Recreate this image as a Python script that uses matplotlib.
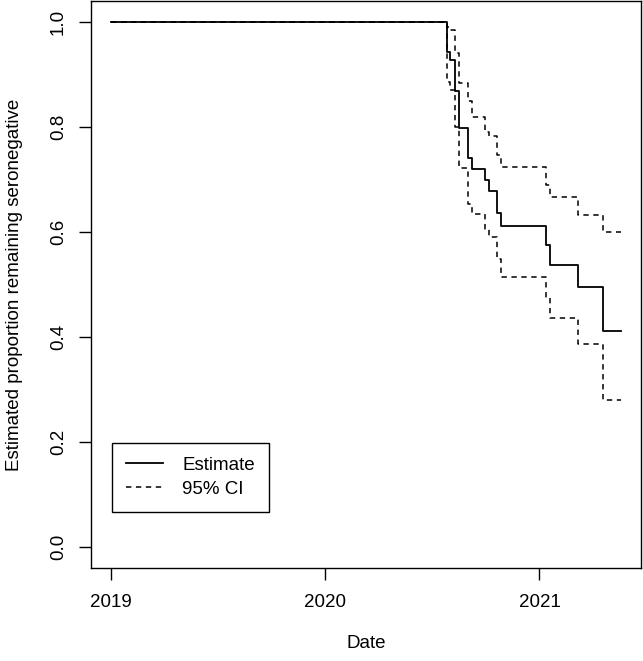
import matplotlib
matplotlib.use("Agg")
import matplotlib.pyplot as plt
from matplotlib.lines import Line2D

plt.rcParams['font.family'] = ['Liberation Sans', 'DejaVu Sans']

# Kaplan-Meier style curve: event times (decimal years) and values after each step
start_year = 2019.0
end_year = 2021.379
step_years = [2020.568, 2020.584, 2020.605, 2020.623, 2020.665, 2020.685, 2020.744,
              2020.763, 2020.800, 2020.822, 2021.031, 2021.051, 2021.180, 2021.297]
estimate = [0.943, 0.927, 0.868, 0.797, 0.740, 0.719, 0.698,
            0.678, 0.636, 0.611, 0.575, 0.537, 0.495, 0.411]
upper_ci = [0.990, 0.985, 0.941, 0.884, 0.850, 0.819, 0.790,
            0.782, 0.746, 0.724, 0.690, 0.666, 0.632, 0.599]
lower_ci = [0.885, 0.870, 0.800, 0.721, 0.654, 0.634, 0.605,
            0.590, 0.548, 0.515, 0.475, 0.436, 0.387, 0.281]

x_ticks = [2019, 2020, 2021]
y_ticks = [0.0, 0.2, 0.4, 0.6, 0.8, 1.0]
legend_labels = ["Estimate", "95% CI"]

FS = 13.5


def full_series(vals):
  xs = [start_year] + step_years + [end_year]
  ys = [1.0] + vals + [vals[-1]]
  return xs, ys


fig = plt.figure(figsize=(6.43, 6.61), dpi=100)
ax = fig.add_axes([91/643, 1 - 568.3/661, 550/643, 567.6/661])

dash = (0, (3.5, 3))
for ci in (upper_ci, lower_ci):
  xs, ys = full_series(ci)
  ax.step(xs, ys, where='post', color='black', lw=1.1, linestyle=dash)
xs, ys = full_series(estimate)
ax.step(xs, ys, where='post', color='black', lw=1.3)

span = end_year - start_year
ax.set_xlim(start_year - 0.04*span, end_year + 0.04*span)
ax.set_ylim(-0.04, 1.04)

ax.set_xticks(x_ticks)
ax.set_xticklabels([str(e) for e in x_ticks])
ax.set_yticks(y_ticks)
ax.set_yticklabels(["%.1f" % e for e in y_ticks])
ax.tick_params(axis='both', direction='out', length=8.4, width=1, labelsize=FS, color='black')
ax.tick_params(axis='x', pad=10)
ax.tick_params(axis='y', pad=9, labelrotation=90)
for lab in ax.get_yticklabels():
  lab.set_va('center')
for s in ax.spines.values():
  s.set_linewidth(1)
  s.set_color('black')

fig.text(15/643, 1 - 284.5/661, "Estimated proportion remaining seronegative",
         rotation=90, ha='center', va='center', fontsize=FS)
fig.text(366/643, 1 - 643/661, "Date", ha='center', va='center', fontsize=FS)

proxies = [Line2D([], [], color='black', lw=1.3),
           Line2D([], [], color='black', lw=1.1, linestyle=dash)]
leg = ax.legend(proxies, legend_labels, loc='upper left',
                bbox_to_anchor=((111.7-91)/550, (568.3-442.7)/567.6),
                borderaxespad=0, fancybox=False, edgecolor='black', framealpha=1,
                fontsize=FS, handlelength=2.0, handletextpad=1.0,
                borderpad=0.75, labelspacing=0.35)
leg.get_frame().set_linewidth(1)

fig.savefig("out.png", dpi=100)
